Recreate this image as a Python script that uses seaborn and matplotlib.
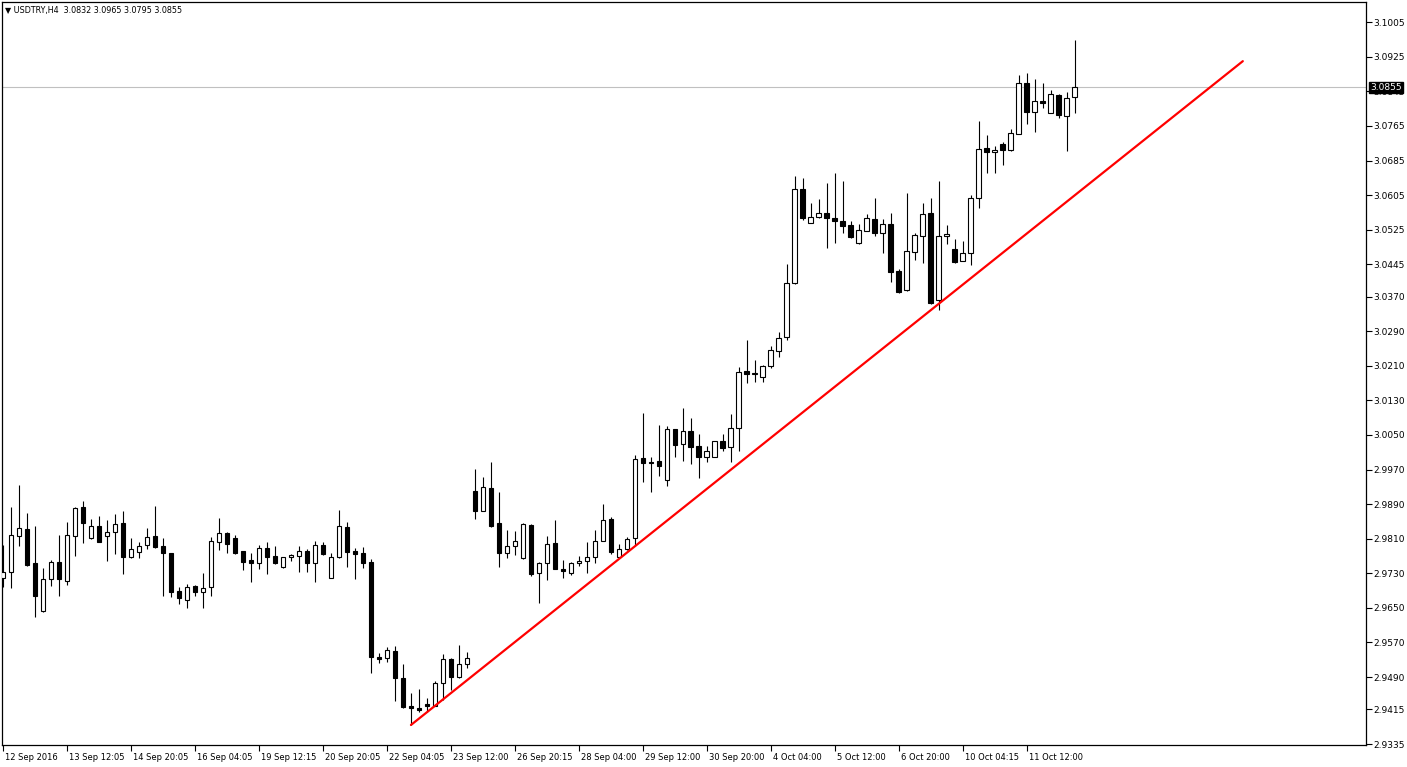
import matplotlib
matplotlib.use("Agg")
import matplotlib.pyplot as plt
import matplotlib.transforms as mtransforms
import numpy as np
import pandas as pd
import seaborn as sns

# ---------------- data ----------------
title_text = "\u25bc USDTRY,H4  3.0832 3.0965 3.0795 3.0855"

opens = [2.9719, 2.9733, 2.9817, 2.9833, 2.9753, 2.9643, 2.9717, 2.9756, 2.9712, 2.9817,
         2.9884, 2.9812, 2.9840, 2.9817, 2.9826, 2.9847, 2.9767, 2.9779, 2.9795, 2.9817,
         2.9793, 2.9776, 2.9689, 2.9668, 2.9700, 2.9686, 2.9698, 2.9803, 2.9824, 2.9812,
         2.9781, 2.9760, 2.9753, 2.9788, 2.9770, 2.9744, 2.9767, 2.9770, 2.9781, 2.9753,
         2.9795, 2.9719, 2.9767, 2.9837, 2.9781, 2.9776, 2.9756, 2.9537, 2.9534, 2.9550,
         2.9488, 2.9423, 2.9418, 2.9427, 2.9423, 2.9476, 2.9532, 2.9490, 2.9520, 2.9920,
         2.9874, 2.9927, 2.9847, 2.9776, 2.9793, 2.9765, 2.9842, 2.9730, 2.9753, 2.9801,
         2.9740, 2.9730, 2.9753, 2.9758, 2.9767, 2.9805, 2.9856, 2.9767, 2.9786, 2.9812,
         2.9997, 2.9987, 2.9990, 2.9946, 3.0063, 3.0029, 3.0059, 3.0024, 2.9999, 2.9999,
         3.0036, 3.0022, 3.0066, 3.0198, 3.0191, 3.0184, 3.0210, 3.0244, 3.0277, 3.0401,
         3.0619, 3.0541, 3.0554, 3.0564, 3.0552, 3.0545, 3.0536, 3.0494, 3.0522, 3.0550,
         3.0518, 3.0538, 3.0430, 3.0385, 3.0474, 3.0511, 3.0564, 3.0362, 3.0511, 3.0481,
         3.0453, 3.0471, 3.0598, 3.0714, 3.0704, 3.0723, 3.0709, 3.0747, 3.0865, 3.0798,
         3.0823, 3.0795, 3.0837, 3.0788, 3.0832]
highs = [2.9795, 2.9884, 2.9934, 2.9870, 2.9840, 2.9742, 2.9760, 2.9819, 2.9849, 2.9884,
         2.9897, 2.9856, 2.9863, 2.9854, 2.9867, 2.9874, 2.9812, 2.9803, 2.9835, 2.9886,
         2.9812, 2.9777, 2.9698, 2.9705, 2.9703, 2.9730, 2.9814, 2.9858, 2.9826, 2.9819,
         2.9782, 2.9776, 2.9795, 2.9803, 2.9793, 2.9768, 2.9774, 2.9793, 2.9786, 2.9805,
         2.9803, 2.9776, 2.9877, 2.9849, 2.9788, 2.9790, 2.9763, 2.9546, 2.9560, 2.9562,
         2.9520, 2.9453, 2.9462, 2.9441, 2.9480, 2.9543, 2.9533, 2.9564, 2.9548, 2.9971,
         2.9953, 2.9987, 2.9918, 2.9831, 2.9828, 2.9847, 2.9843, 2.9756, 2.9817, 2.9854,
         2.9760, 2.9756, 2.9770, 2.9803, 2.9831, 2.9890, 2.9860, 2.9798, 2.9814, 3.0004,
         3.0100, 2.9999, 3.0073, 3.0070, 3.0064, 3.0113, 3.0089, 3.0052, 3.0024, 3.0037,
         3.0052, 3.0098, 3.0208, 3.0270, 3.0224, 3.0212, 3.0256, 3.0288, 3.0446, 3.0649,
         3.0644, 3.0587, 3.0596, 3.0633, 3.0656, 3.0638, 3.0545, 3.0538, 3.0561, 3.0598,
         3.0550, 3.0564, 3.0435, 3.0610, 3.0518, 3.0587, 3.0598, 3.0638, 3.0536, 3.0504,
         3.0499, 3.0605, 3.0777, 3.0745, 3.0718, 3.0727, 3.0758, 3.0883, 3.0888, 3.0874,
         3.0865, 3.0848, 3.0838, 3.0844, 3.0965]
lows = [2.9698, 2.9696, 2.9793, 2.9746, 2.9629, 2.9641, 2.9700, 2.9677, 2.9703, 2.9770,
        2.9801, 2.9810, 2.9802, 2.9758, 2.9774, 2.9728, 2.9765, 2.9765, 2.9786, 2.9789,
        2.9677, 2.9675, 2.9659, 2.9650, 2.9677, 2.9650, 2.9677, 2.9783, 2.9776, 2.9774,
        2.9737, 2.9710, 2.9740, 2.9728, 2.9752, 2.9743, 2.9758, 2.9733, 2.9733, 2.9710,
        2.9772, 2.9718, 2.9765, 2.9744, 2.9717, 2.9742, 2.9500, 2.9523, 2.9525, 2.9434,
        2.9418, 2.9379, 2.9409, 2.9409, 2.9422, 2.9436, 2.9459, 2.9488, 2.9511, 2.9856,
        2.9873, 2.9837, 2.9744, 2.9765, 2.9772, 2.9764, 2.9723, 2.9661, 2.9714, 2.9739,
        2.9719, 2.9726, 2.9747, 2.9730, 2.9753, 2.9804, 2.9774, 2.9766, 2.9783, 2.9793,
        2.9941, 2.9918, 2.9955, 2.9932, 2.9999, 2.9990, 2.9983, 2.9950, 2.9987, 2.9998,
        3.0013, 2.9987, 3.0013, 3.0171, 3.0173, 3.0173, 3.0205, 3.0230, 3.0270, 3.0399,
        3.0548, 3.0540, 3.0553, 3.0483, 3.0494, 3.0518, 3.0506, 3.0493, 3.0521, 3.0511,
        3.0471, 3.0404, 3.0378, 3.0383, 3.0455, 3.0448, 3.0354, 3.0339, 3.0492, 3.0448,
        3.0452, 3.0444, 3.0575, 3.0656, 3.0656, 3.0674, 3.0707, 3.0746, 3.0770, 3.0752,
        3.0807, 3.0794, 3.0784, 3.0707, 3.0795]
closes = [2.9733, 2.9819, 2.9835, 2.9749, 2.9677, 2.9717, 2.9756, 2.9717, 2.9819, 2.9881,
          2.9847, 2.9840, 2.9803, 2.9826, 2.9844, 2.9767, 2.9786, 2.9793, 2.9814, 2.9790,
          2.9776, 2.9686, 2.9673, 2.9698, 2.9686, 2.9696, 2.9805, 2.9824, 2.9798, 2.9776,
          2.9756, 2.9753, 2.9788, 2.9767, 2.9753, 2.9767, 2.9772, 2.9781, 2.9753, 2.9795,
          2.9774, 2.9767, 2.9840, 2.9779, 2.9774, 2.9753, 2.9537, 2.9532, 2.9553, 2.9488,
          2.9420, 2.9418, 2.9413, 2.9423, 2.9476, 2.9532, 2.9490, 2.9520, 2.9534, 2.9874,
          2.9930, 2.9840, 2.9776, 2.9793, 2.9805, 2.9844, 2.9728, 2.9753, 2.9798, 2.9740,
          2.9735, 2.9753, 2.9758, 2.9767, 2.9805, 2.9854, 2.9779, 2.9786, 2.9810, 2.9994,
          2.9985, 2.9985, 2.9978, 3.0063, 3.0027, 3.0059, 3.0022, 2.9999, 3.0013, 3.0036,
          3.0020, 3.0066, 3.0196, 3.0191, 3.0194, 3.0210, 3.0247, 3.0274, 3.0401, 3.0619,
          3.0552, 3.0554, 3.0564, 3.0552, 3.0545, 3.0534, 3.0508, 3.0525, 3.0552, 3.0518,
          3.0538, 3.0428, 3.0380, 3.0476, 3.0513, 3.0561, 3.0355, 3.0511, 3.0515, 3.0451,
          3.0471, 3.0598, 3.0711, 3.0704, 3.0709, 3.0709, 3.0749, 3.0865, 3.0798, 3.0823,
          3.0818, 3.0839, 3.0791, 3.0830, 3.0855]

time_labels = ["12 Sep 2016", "13 Sep 12:05", "14 Sep 20:05", "16 Sep 04:05", "19 Sep 12:15",
               "20 Sep 20:05", "22 Sep 04:05", "23 Sep 12:00", "26 Sep 20:15", "28 Sep 04:00",
               "29 Sep 12:00", "30 Sep 20:00", "4 Oct 04:00", "5 Oct 12:00", "6 Oct 20:00",
               "10 Oct 04:15", "11 Oct 12:00"]
label_bars = list(range(0, 8 * len(time_labels), 8))

price_ticks = [3.1005, 3.0925, 3.0845, 3.0765, 3.0685, 3.0605, 3.0525, 3.0445, 3.0370, 3.0290,
               3.0210, 3.0130, 3.0050, 2.9970, 2.9890, 2.9810, 2.9730, 2.9650, 2.9570, 2.9490,
               2.9415, 2.9335]

trend_bars = [51, 155]
trend_prices = [2.9379, 3.0915]
last_price = 3.0855

# ---------------- figure ----------------
sns.set_style("white")
plt.rcParams['font.family'] = ['DejaVu Sans']

W, H = 1407, 767
fig = plt.figure(figsize=(W / 100, H / 100), dpi=100)
ax = fig.add_axes([2 / W, 22 / H, 1364 / W, 743 / H])

df = pd.DataFrame({"open": opens, "high": highs, "low": lows, "close": closes})
df["bar"] = np.arange(len(df))
bull = df["close"] >= df["open"]

# wicks
ax.vlines(df["bar"], df["low"], df["high"], color="black", linewidth=0.8, zorder=2)
# bodies
bottoms = np.minimum(df["open"], df["close"])
heights = np.abs(df["close"] - df["open"])
faces = np.where(bull, "white", "black")
ax.bar(df["bar"], heights, bottom=bottoms, width=0.6, color=faces,
       edgecolor="black", linewidth=0.8, zorder=3)

# trend line
sns.lineplot(x=trend_bars, y=trend_prices, color="#ff0000", linewidth=1.6, ax=ax, zorder=4)

# last price line
ax.axhline(last_price, color="#c0c0c0", linewidth=0.8, zorder=1)

ax.set_xlim(-0.125, 170.4)
ax.set_ylim(2.93327, 3.10519)

for s in ax.spines.values():
    s.set_color("black")
    s.set_linewidth(0.9)
    s.set_visible(True)

ax.yaxis.tick_right()
ax.set_yticks(price_ticks)
ax.set_yticklabels([f"{v:.4f}" for v in price_ticks])
ax.tick_params(axis="y", direction="out", length=4, width=0.8, pad=1.5,
               labelsize=6.5, colors="black", right=True, left=False)

ax.set_xticks(label_bars)
ax.set_xticklabels(time_labels)
ax.tick_params(axis="x", direction="out", length=4, width=0.8, pad=2,
               labelsize=6, colors="black", bottom=True)
offset = mtransforms.ScaledTranslation(2 / 100, 0, fig.dpi_scale_trans)
for lbl in ax.get_xticklabels():
    lbl.set_horizontalalignment("left")
    lbl.set_transform(lbl.get_transform() + offset)

ax.set_xlabel("")
ax.set_ylabel("")
ax.grid(False)

# current price box on the axis
ax.text(1.0028, last_price, f"{last_price:.4f}", transform=ax.get_yaxis_transform(),
        ha="left", va="center", color="white", fontsize=6.5,
        bbox=dict(boxstyle="square,pad=0.12", fc="black", ec="black"),
        zorder=10, clip_on=False)

# title
ax.text(3 / 1364, 1 - 8 / 743, title_text, transform=ax.transAxes, ha="left", va="center",
        fontsize=5.8, color="black")

fig.savefig("out.png", dpi=100, facecolor="white")
